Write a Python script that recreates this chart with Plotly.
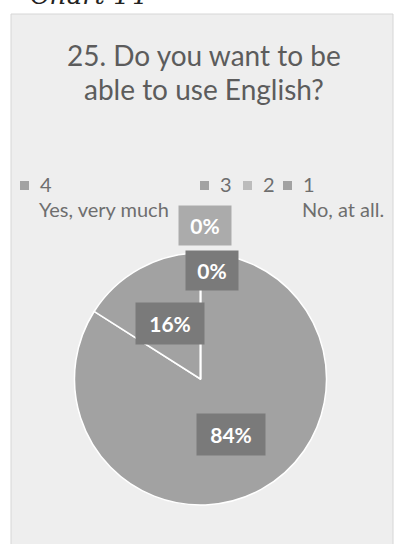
import math
import plotly.graph_objects as go

# ---- data ----
categories = ["4", "3", "2", "1"]
values = [84, 16, 0, 0]
pct_labels = ["84%", "16%", "0%", "0%"]
slice_colors = ["#a2a2a2", "#a2a2a2", "#bcbcbc", "#a2a2a2"]
label_bg = ["#7a7a7a", "#7a7a7a", "#ababab", "#7a7a7a"]
title_lines = ["25. Do you want to be", "able to use English?"]
scale_left = "Yes, very much"
scale_right = "No, at all."
caption = "Chart 14"

W, H = 398, 544
cx, cy, r = 200.5, 379.0, 126.0


def px(x, y):
    return x / W, 1 - y / H


fig = go.Figure()
fig.add_trace(go.Pie(
    labels=categories,
    values=values,
    sort=False,
    direction="clockwise",
    rotation=0,
    marker=dict(colors=slice_colors, line=dict(color="white", width=1.5)),
    textinfo="none",
    hoverinfo="skip",
    showlegend=False,
    domain=dict(x=[(cx - r) / W, (cx + r) / W],
                y=[1 - (cy + r) / H, 1 - (cy - r) / H]),
))

annotations = []
shapes = []
# data labels placed from the slice angles
total = sum(values)
cum = 0.0
zero_offsets = {2: (1.22, 5), 3: (0.86, 12)}
for i, v in enumerate(values):
    start = cum / total * 360
    cum += v
    end = cum / total * 360
    mid = math.radians((start + end) / 2)
    if v > 0:
        d = 0.5 * r
        x = cx + d * math.sin(mid)
        y = cy - d * math.cos(mid)
        w, h = 66, 39
    else:
        f, dx = zero_offsets[i]
        x = cx + f * r * math.sin(mid) + dx
        y = cy - f * r * math.cos(mid)
        w, h = 50, 37
    xp, yp = px(x, y)
    annotations.append(dict(
        x=xp, y=yp, xref="paper", yref="paper", text=f"<b>{pct_labels[i]}</b>",
        showarrow=False, bgcolor=label_bg[i], width=w, height=h,
        font=dict(family="Lato", size=21, color="white"),
        xanchor="center", yanchor="middle"))

# title
for j, line in enumerate(title_lines):
    xp, yp = px(204, 55 + j * 34)
    annotations.append(dict(x=xp, y=yp, xref="paper", yref="paper", text=line,
                            showarrow=False, xanchor="center", yanchor="middle",
                            font=dict(family="Lato", size=28, color="#5c5c5c")))

# legend (manual, to match the original layout)
leg_font = dict(family="Lato", size=20, color="#6e6e6e")
for k, lx in zip(range(4), (20, 200, 243, 283)):
    sx0, sy0 = px(lx, 181)
    sx1, sy1 = px(lx + 9, 190)
    shapes.append(dict(type="rect", xref="paper", yref="paper", x0=sx0, x1=sx1,
                       y0=sy1, y1=sy0, fillcolor=slice_colors[k], line=dict(width=0)))
    xp, yp = px(lx + 19, 184)
    annotations.append(dict(x=xp, y=yp, xref="paper", yref="paper", text=categories[k],
                            showarrow=False, xanchor="left", yanchor="middle", font=leg_font,
                            borderpad=0))
xp, yp = px(38, 209)
annotations.append(dict(x=xp, y=yp, xref="paper", yref="paper", text=scale_left,
                        showarrow=False, xanchor="left", yanchor="middle", font=leg_font,
                        borderpad=0))
xp, yp = px(301, 209)
annotations.append(dict(x=xp, y=yp, xref="paper", yref="paper", text=scale_right,
                        showarrow=False, xanchor="left", yanchor="middle", font=leg_font,
                        borderpad=0))

# caption (cut at the top in the original)
xp, yp = px(28, 12)
annotations.append(dict(x=xp, y=yp, xref="paper", yref="paper", text=f"<i>{caption}</i>",
                        showarrow=False, xanchor="left", yanchor="bottom",
                        font=dict(family="DejaVu Serif", size=26, color="#222222")))

x0, y0 = px(11, 14)
x1, y1 = px(393, 560)
shapes.insert(0, dict(type="rect", xref="paper", yref="paper", x0=x0, x1=x1, y0=y1, y1=y0,
                      fillcolor="#eeeeee", line=dict(color="#d6d6d6", width=1), layer="below"))
fig.update_layout(
    width=W, height=H,
    margin=dict(l=0, r=0, t=0, b=0),
    paper_bgcolor="white",
    plot_bgcolor="white",
    annotations=annotations,
    shapes=shapes,
)
fig.write_html("out.html")
